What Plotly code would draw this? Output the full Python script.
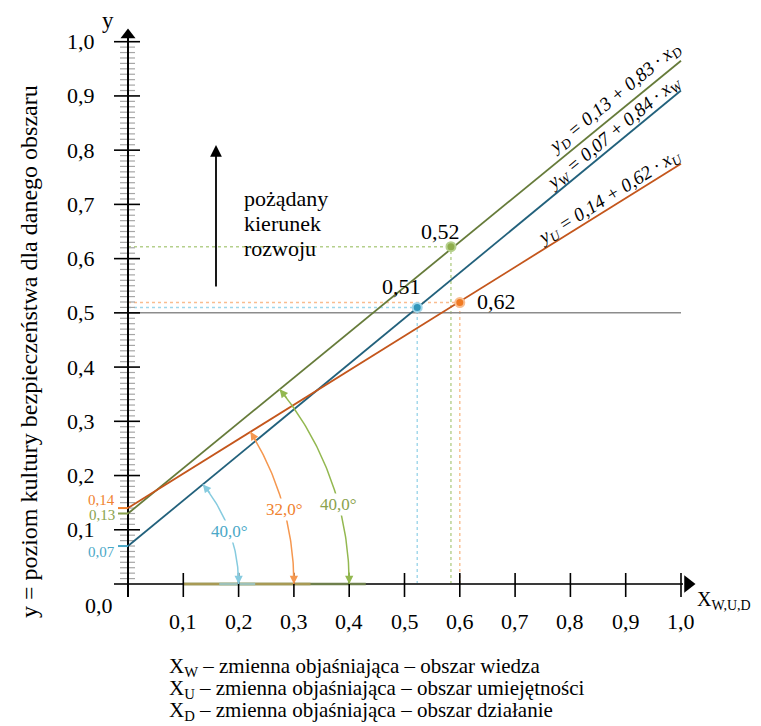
import numpy as np
import plotly.graph_objects as go

# ---------------- data ----------------
series = ["D", "W", "U"]
line_y_at_0 = [0.13, 0.07, 0.14]        # values at x = 0
line_y_at_1 = [0.965, 0.91, 0.775]      # values at x = 1 (as drawn)
equations = [
    "<i>y<sub>D</sub> = 0,13 + 0,83 · x<sub>D</sub></i>",
    "<i>y<sub>W</sub> = 0,07 + 0,84 · x<sub>W</sub></i>",
    "<i>y<sub>U</sub> = 0,14 + 0,62 · x<sub>U</sub></i>",
]
intercept_labels = ["0,13", "0,07", "0,14"]
angle_labels = ["40,0°", "40,0°", "32,0°"]
arc_end_x = [0.4, 0.2, 0.3]
point_x = [0.584, 0.523, 0.600]
point_y = [0.622, 0.510, 0.519]
point_labels = ["0,52", "0,51", "0,62"]
reference_level = 0.5

x_ticks = [0.1, 0.2, 0.3, 0.4, 0.5, 0.6, 0.7, 0.8, 0.9, 1.0]
x_tick_labels = ["0,1", "0,2", "0,3", "0,4", "0,5", "0,6", "0,7", "0,8", "0,9", "1,0"]
y_ticks = [0.1, 0.2, 0.3, 0.4, 0.5, 0.6, 0.7, 0.8, 0.9, 1.0]
y_tick_labels = ["0,1", "0,2", "0,3", "0,4", "0,5", "0,6", "0,7", "0,8", "0,9", "1,0"]
y_minor_ticks = [i / 100 for i in range(1, 100) if i % 10 != 0]

y_title = "y = poziom kultury bezpieczeństwa dla danego obszaru"
x_title = "X<sub>W,U,D</sub>"
direction_text = ["pożądany", "kierunek", "rozwoju"]
legend_lines = [
    "X<sub>W</sub> – zmienna objaśniająca – obszar wiedza",
    "X<sub>U</sub> – zmienna objaśniająca – obszar umiejętności",
    "X<sub>D</sub> – zmienna objaśniająca – obszar działanie",
]

# ---------------- style ----------------
OFF = 8.0                      # page body margin of the browser
W, H = 761 - int(OFF), 726 - int(OFF)
X0PX, XS = 128.0 - OFF, 553.0
Y0PX, YS = 584.0 - OFF, 542.3
FONT = "Liberation Serif, Times New Roman, serif"

line_colors = ["#667B3A", "#22617C", "#C4561C"]
point_colors = ["#8EAD4C", "#3196BA", "#F07A22"]
light_colors = ["#B5D08C", "#9ED6EA", "#F9BD8F"]
arc_colors = ["#93B850", "#86CBDF", "#F5974F"]
label_colors = ["#8AA24D", "#4BA8C7", "#F0822F"]
intercept_shift = [-1, -6, 8]
label_frac = [0.38, 0.5, 0.47]
eq_anchor_x = [0.895, 0.89, 0.88]
eq_offset = [13, 10, 10]
pt_label_off = [(-10, 15), (-16, 21), (37, 1)]


def fx(p):
    """reference-page pixel x -> data x"""
    return (p - OFF - X0PX) / XS


def fy(p):
    """reference-page pixel y -> data y"""
    return (Y0PX - (p - OFF)) / YS


def px(x):
    return X0PX + x * XS


fig = go.Figure()
ann = []


def seg(xs, ys, color, width, dash=None):
    fig.add_trace(go.Scatter(x=xs, y=ys, mode="lines", hoverinfo="skip",
                             line=dict(color=color, width=width, dash=dash)))


# dotted guide lines
for i in range(3):
    seg([0, point_x[i]], [point_y[i], point_y[i]], light_colors[i], 1.4, "dot")
    seg([point_x[i], point_x[i]], [0, point_y[i]], light_colors[i], 1.4, "dot")

# reference level
seg([0, 1.0], [reference_level, reference_level], "#8C8C8C", 1.5)

# minor ticks on y axis
mx, my = [], []
for v in y_minor_ticks:
    mx += [fx(120), fx(135), None]
    my += [v, v, None]
seg(mx, my, "#A6A6A6", 1.2)

# axes
seg([fx(114), fx(683)], [0, 0], "#3A3A3A", 2.2)
seg([0, 0], [fy(597), fy(38)], "#000000", 2)

# coloured base rays along x axis
seg([0.1, arc_end_x[0] + 0.03], [0, 0], "#6E7F4C", 2.4)
seg([0.1, arc_end_x[2] + 0.03], [0, 0], "#A89A55", 2.4)
seg([arc_end_x[1] - 0.035, arc_end_x[1] + 0.03], [0, 0], "#9CC1B9", 2.4)

# major ticks
tx, ty = [], []
for v in y_ticks:
    tx += [fx(114), fx(140), None]
    ty += [v, v, None]
seg(tx, ty, "#000000", 1.6)
tx, ty = [], []
for v in x_ticks + [0.0]:
    tx += [v, v, None]
    ty += [fy(573), fy(597), None]
seg(tx, ty, "#000000", 1.6)

# axis arrow heads
fig.add_trace(go.Scatter(x=[0], y=[fy(35)], mode="markers", hoverinfo="skip",
                         marker=dict(symbol="triangle-up", size=13, color="black")))
fig.add_trace(go.Scatter(x=[fx(688)], y=[0], mode="markers", hoverinfo="skip",
                         marker=dict(symbol="triangle-right", size=15, color="black")))

# intercept ticks
for i in range(3):
    seg([fx(118), 0], [line_y_at_0[i], line_y_at_0[i]], label_colors[i], 2)

# regression lines
for i in range(3):
    seg([0, 1], [line_y_at_0[i], line_y_at_1[i]], line_colors[i], 1.8)

# angle arcs, equations, intercept labels
for i in range(3):
    b = line_y_at_1[i] - line_y_at_0[i]
    x_int = -line_y_at_0[i] / b
    cx = px(x_int)
    r = px(arc_end_x[i]) - cx
    theta = np.arctan(b * YS / XS)
    phi = np.linspace(0, theta, 80)
    ax_ = (cx + r * np.cos(phi) - X0PX) / XS
    ay_ = (r * np.sin(phi)) / YS
    fig.add_trace(go.Scatter(x=ax_, y=ay_, mode="lines", hoverinfo="skip",
                             line=dict(color=arc_colors[i], width=1.5)))
    L = 13
    ann.append(dict(x=ax_[0], y=ay_[0], ax=0, ay=-L, text="", showarrow=True,
                    arrowhead=2, arrowsize=1.1, arrowwidth=1.5, arrowcolor=arc_colors[i],
                    standoff=0))
    ann.append(dict(x=ax_[-1], y=ay_[-1], ax=np.sin(theta) * L, ay=np.cos(theta) * L,
                    text="", showarrow=True, arrowhead=2, arrowsize=1.1, arrowwidth=1.5,
                    arrowcolor=arc_colors[i], standoff=0))
    pm = label_frac[i] * theta
    ann.append(dict(x=(cx + r * np.cos(pm) - X0PX) / XS, y=r * np.sin(pm) / YS,
                    text=angle_labels[i], showarrow=False, bgcolor="white",
                    font=dict(family=FONT, size=17, color=label_colors[i])))

    xe = eq_anchor_x[i]
    ye = line_y_at_0[i] + b * xe
    ann.append(dict(x=xe, y=ye, text=equations[i], showarrow=False,
                    textangle=-np.degrees(theta),
                    xshift=-eq_offset[i] * np.sin(theta), yshift=eq_offset[i] * np.cos(theta),
                    font=dict(family=FONT, size=19, color="black")))

    ann.append(dict(x=fx(117), y=line_y_at_0[i], xanchor="right", showarrow=False,
                    yshift=intercept_shift[i], text=intercept_labels[i],
                    font=dict(family=FONT, size=15, color=label_colors[i])))

# highlighted points
for i in range(3):
    fig.add_trace(go.Scatter(x=[point_x[i]], y=[point_y[i]], mode="markers", hoverinfo="skip",
                             marker=dict(size=9, color=point_colors[i],
                                         line=dict(color=light_colors[i], width=2))))
    ox, oy = pt_label_off[i]
    ann.append(dict(x=point_x[i], y=point_y[i], xshift=ox, yshift=oy, showarrow=False,
                    text=point_labels[i], font=dict(family=FONT, size=22, color="black")))

# tick labels
for v, t in zip(x_ticks, x_tick_labels):
    ann.append(dict(x=v, y=fy(621), text=t, showarrow=False,
                    font=dict(family=FONT, size=22, color="black")))
for v, t in zip(y_ticks, y_tick_labels):
    ann.append(dict(x=fx(97), y=v, text=t, showarrow=False, xanchor="right",
                    font=dict(family=FONT, size=22, color="black")))
ann.append(dict(x=fx(99), y=fy(605), text="0,0", showarrow=False,
                font=dict(family=FONT, size=22, color="black")))

# axis titles
ann.append(dict(x=fx(108), y=fy(20), text="y", showarrow=False,
                font=dict(family=FONT, size=23, color="black")))
ann.append(dict(x=fx(695), y=fy(600), text=x_title, showarrow=False, xanchor="left",
                font=dict(family=FONT, size=20, color="black")))
ann.append(dict(x=fx(29), y=fy(352), text=y_title, showarrow=False, textangle=-90,
                font=dict(family=FONT, size=24, color="black")))

# desired direction arrow and text
ann.append(dict(x=fx(216), y=fy(145), ax=fx(216), ay=fy(288), axref="x", ayref="y",
                text="", showarrow=True, arrowhead=2, arrowsize=1.3, arrowwidth=1.8,
                arrowcolor="black", standoff=0))
for k, t in enumerate(direction_text):
    ann.append(dict(x=fx(242), y=fy(198 + 25 * k), text=t, showarrow=False, xanchor="left",
                    font=dict(family=FONT, size=22, color="black")))

# bottom explanation
for k, t in enumerate(legend_lines):
    ann.append(dict(x=fx(167), y=fy(667 + 22 * k), text=t, showarrow=False, xanchor="left",
                    font=dict(family=FONT, size=21, color="black")))

fig.update_layout(
    width=W, height=H, showlegend=False,
    margin=dict(l=0, r=0, t=0, b=0),
    font=dict(family=FONT),
    paper_bgcolor="white", plot_bgcolor="white",
    xaxis=dict(range=[(0 - X0PX) / XS, (W - X0PX) / XS], visible=False, fixedrange=True),
    yaxis=dict(range=[(Y0PX - H) / YS, Y0PX / YS], visible=False, fixedrange=True),
    annotations=ann,
)

fig.write_html("out.html")
